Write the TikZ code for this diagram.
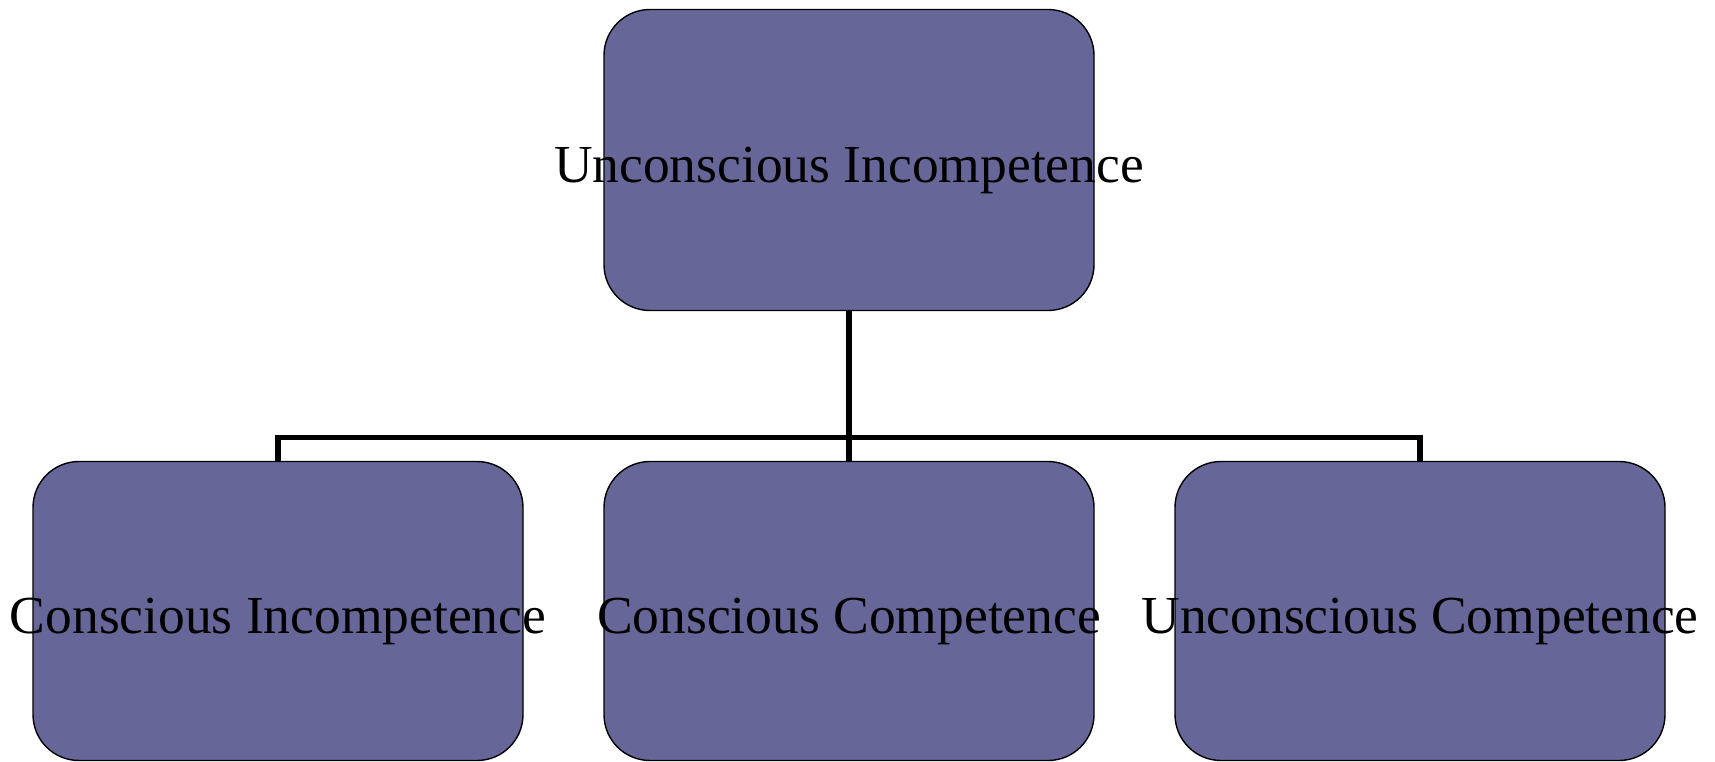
\documentclass[tikz,border=0pt]{standalone}
\usepackage{fontspec}
\setmainfont{Liberation Serif}
\definecolor{boxfill}{RGB}{102,102,153}
\tikzset{
  box/.style={draw=black, line width=1.4pt, fill=boxfill, rounded corners=46pt,
    minimum width=490pt, minimum height=#1, inner sep=0pt},
  lbl/.style={font=\fontsize{53.5}{60}\selectfont, inner sep=0pt, text=black, yshift=-10pt},
  conn/.style={draw=black, line width=5.5pt}
}
\begin{document}
\begin{tikzpicture}[x=1pt,y=-1pt]
\useasboundingbox (0,0) rectangle (1715,761);
\node[box=301pt] (top) at (849,160) {};
\node[box=299pt] (b1) at (278,611) {};
\node[box=299pt] (b2) at (849,611) {};
\node[box=299pt] (b3) at (1420,611) {};
\coordinate (j) at (849,437.5);
\draw[conn] (top.south) -- (j);
\draw[conn] (b1.north) |- (j) -| (b3.north);
\draw[conn] (j) -- (b2.north);
\node[lbl] (t0) at (top.center) {Unconscious Incompetence};
\node[lbl] (t1) at (b1.center) {Conscious Incompetence};
\node[lbl] (t2) at (b2.center) {Conscious Competence};
\node[lbl] (t3) at (b3.center) {Unconscious Competence};
\end{tikzpicture}
\end{document}
